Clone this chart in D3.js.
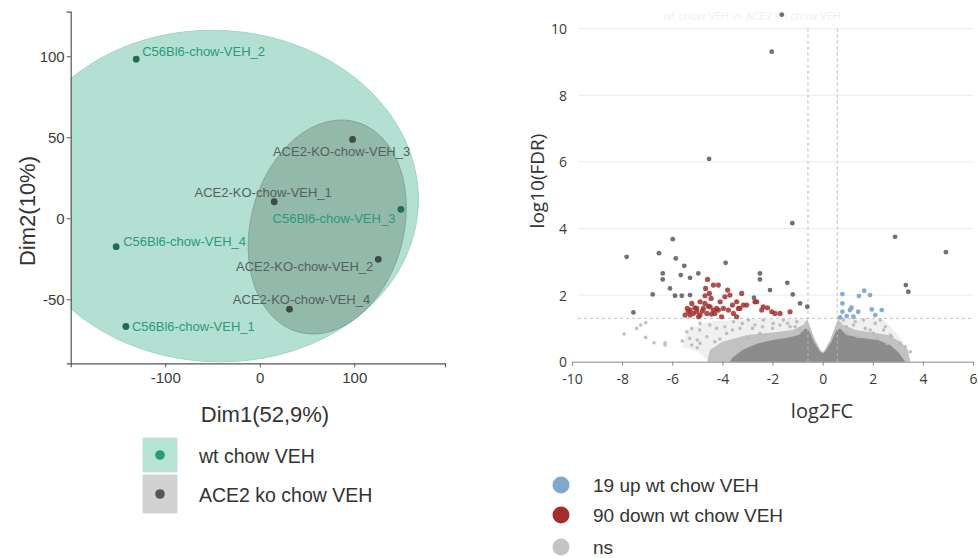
<!DOCTYPE html>
<html>
<head>
<meta charset="utf-8">
<title>PCA and volcano plot, wt chow VEH vs ACE2 ko chow VEH</title>
<script src="https://d3js.org/d3.v7.min.js"></script>
<style>
    body { margin: 0; background: #fff; }
    svg { display: block; font-family: "Liberation Sans", Arial, sans-serif; }
</style>
</head>
<body>
<div id="chart"></div>
<script>
// ---- PCA data ----
var groupNames = ["wt chow VEH", "ACE2 ko chow VEH"];
var sampleNames = ["C56Bl6-chow-VEH_1", "C56Bl6-chow-VEH_2", "C56Bl6-chow-VEH_3", "C56Bl6-chow-VEH_4",
                   "ACE2-KO-chow-VEH_1", "ACE2-KO-chow-VEH_2", "ACE2-KO-chow-VEH_3", "ACE2-KO-chow-VEH_4"];
var sampleGroup = [0, 0, 0, 0, 1, 1, 1, 1];
var dim1 = [-141.6, -130.7, 149.4, -151.9, 15.3, 125.4, 98.2, 31.5];
var dim2 = [-66.8, 98.2, 5.5, -17.5, 10.2, -25.3, 48.7, -56.1];
// group ellipses (centre, half extents, correlation)
var ellipseCx = [-46, 71.4];
var ellipseCy = [13.7, -5.4];
var ellipseRx = [213.8, 83.6];
var ellipseRy = [102.3, 66];
var ellipseRho = [-0.02, 0.18];
var pcaXTicks = [-100, 0, 100];
var pcaYTicks = [-50, 0, 50, 100];

// ---- volcano data ----
var volXTicks = [-10, -8, -6, -4, -2, 0, 2, 4, 6];
var volYTicks = [0, 2, 4, 6, 8, 10];
var lfcCut = [-0.585, 0.585];
var fdrCut = 1.3;
var downLfc = [-4.59, -4.36, -4.16, -4.67, -3.79, -3.70, -3.23, -4.69, -4.52, -4.89, -4.09, -5.22, -5.02, -4.76, -4.56, -4.36,
               -4.16, -5.36, -5.16, -4.89, -4.62, -3.76, -3.56, -3.36, -3.16, -2.63, -2.43, -2.03, -1.70, -1.30, -5.49, -3.96,
               -3.43, -5.29, -5.02, -4.43, -4.03, -3.43, -3.03, -2.70, -2.37, -5.29, -4.49, -4.23, -3.30, -1.90, -2.20,
               -5.10, -4.80, -4.95, -4.30, -4.70, -4.45, -3.90, -3.60, -5.40];
var downFdr = [2.47, 2.30, 2.30, 2.20, 2.15, 2.00, 2.05, 1.98, 2.05, 1.80, 1.80, 1.75, 1.60, 1.60, 1.67, 1.55,
               1.55, 1.50, 1.45, 1.40, 1.45, 1.55, 1.45, 1.60, 1.70, 1.80, 1.55, 1.50, 1.45, 1.50, 1.40, 1.60,
               1.80, 1.55, 1.50, 1.43, 1.35, 1.35, 1.70, 1.80, 1.65, 1.40, 1.65, 1.60, 1.60, 1.45, 1.62,
               1.62, 1.52, 1.35, 1.45, 1.75, 1.90, 1.95, 1.70, 1.60];
var upLfc = [0.79, 0.79, 1.66, 1.89, 1.45, 0.79, 1.09, 1.23, 0.96, 1.96, 2.36, 1.42, 0.70, 1.15, 2.10];
var upFdr = [2.03, 1.75, 2.13, 2.00, 1.97, 1.50, 1.55, 1.35, 1.37, 1.57, 1.55, 1.50, 1.33, 1.62, 1.40];
// isolated ns genes (dark dots)
var nsFarLfc = [-2.03, -4.53, -1.21, 2.89, 4.92, -7.82, -5.98, -6.53, -5.86, -5.52, -3.87, -6.38, -6.38, -5.66, -5.29, -4.96,
                -2.50, -2.50, -1.41, -6.09, -6.78, -5.89, -5.62, -5.29, -2.10, -1.19, -2.74, -0.90, -0.61, -7.55, 3.32, 3.42, -1.63];
var nsFarFdr = [9.31, 6.09, 4.16, 3.75, 3.29, 3.15, 3.68, 3.26, 3.10, 2.88, 2.97, 2.65, 2.47, 2.60, 2.52, 2.65,
                2.65, 2.47, 2.37, 2.20, 2.02, 1.98, 1.98, 2.00, 2.15, 2.02, 1.92, 1.75, 1.65, 1.48, 2.30, 2.10, 10.42];
// scattered ns genes below the FDR line (light dots)
var nsLfc = [-7.92, -7.42, -7.06, -7.26, -7.06, -6.73, -6.29, -6.29, -5.42, -5.22, -4.89, -4.62, -4.89, -5.22, -4.23, -3.83,
             -3.56, -3.30, -2.96, -2.70, -2.37, -1.97, -1.57, -1.30, -1.03, -0.90, -2.50, -3.00, -4.10, 0.83, 1.23, 1.63,
             1.90, 2.30, 2.43, 2.03, 2.20, 2.56, 3.10, 3.30, 1.00, 1.40, -5.6, -5.0, 2.7, 3.5,
             -5.3, -4.9, -4.5, -4.3, -3.9, -3.6, -3.2, -2.8, -2.4, -2.0, -1.7, -1.4, -1.1, 0.95, 1.3, 1.7, 2.1, 2.5, 2.75, -5.0];
var nsFdr = [0.83, 1.00, 1.17, 1.10, 0.73, 0.57, 0.50, 0.57, 0.90, 1.00, 1.15, 0.75, 0.55, 0.50, 1.00, 0.85,
             1.20, 1.00, 1.25, 1.10, 1.25, 1.15, 1.25, 1.05, 1.20, 0.95, 0.85, 0.70, 0.68, 1.25, 1.10, 1.25,
             0.95, 1.25, 0.95, 0.85, 0.70, 0.55, 0.55, 0.45, 0.85, 0.75, 0.62, 0.42, 0.80, 0.30,
             0.70, 0.95, 1.10, 0.60, 1.05, 0.95, 1.15, 1.00, 1.05, 1.00, 1.10, 1.15, 1.05, 1.05, 1.20, 1.00, 1.15, 1.05, 0.75, 0.65];
// outlines of the ns haze, the outer cloud and the dense core near the origin
var hazeLfc = [-5.6, -5.4, -4.6, -3.0, -1.2, -0.7, -0.55, -0.1, 0.1, 0.55, 0.75, 2.4, 2.8, 3.2, 3.4, 3.4, -4.5, -5.0];
var hazeFdr = [0.45, 0.95, 1.2, 1.28, 1.28, 1.3, 1.05, 0.35, 0.35, 1.05, 1.3, 1.3, 1.0, 0.6, 0.35, 0.0, 0.0, 0.3];
var midLfc = [-4.6, -4.5, -4.0, -3.0, -2.0, -1.2, -0.75, -0.62, -0.5, -0.3, -0.05, 0.05, 0.3, 0.5, 0.62, 0.8, 1.3, 2.0, 2.6, 3.1, 3.4, 3.5];
var midFdr = [0.0, 0.35, 0.6, 0.8, 0.88, 0.95, 1.12, 1.28, 1.05, 0.65, 0.3, 0.3, 0.65, 1.05, 1.28, 1.12, 0.95, 0.88, 0.8, 0.6, 0.35, 0.0];
var coreLfc = [-3.7, -3.6, -3.2, -2.6, -2.0, -1.4, -0.95, -0.7, -0.55, -0.35, -0.12, 0.0, 0.12, 0.35, 0.55, 0.7, 0.95, 1.5, 2.2, 2.7, 3.0, 3.2, 3.3];
var coreFdr = [0.0, 0.12, 0.35, 0.55, 0.65, 0.72, 0.8, 1.0, 0.95, 0.6, 0.32, 0.25, 0.32, 0.6, 0.95, 1.0, 0.8, 0.72, 0.65, 0.5, 0.3, 0.1, 0.0];
var volLegend = ["19 up wt chow VEH", "90 down wt chow VEH", "ns"];

var svg = d3.select("#chart").append("svg")
    .attr("width", 978)
    .attr("height", 558);

// ================= PCA panel =================
var xPca = d3.scaleLinear().domain([-200, 196]).range([70.7, 445]);
var yPca = d3.scaleLinear().domain([-89.5, 127.5]).range([363.3, 11.7]);

svg.append("clipPath").attr("id", "pcaClip")
    .append("rect")
    .attr("x", xPca.range()[0]).attr("y", yPca.range()[1])
    .attr("width", xPca.range()[1] - xPca.range()[0])
    .attr("height", yPca.range()[0] - yPca.range()[1]);

var ellipseFill = ["#b3e0d3", "#93b9ab"];
var ellipseStroke = ["#a2d3c4", "#7fa596"];
var pointColor = ["#1e6b56", "#3d4a46"];
var labelColor = ["#2a9a7a", "#52625d"];

var pcaLayer = svg.append("g").attr("clip-path", "url(#pcaClip)");
var ellLine = d3.line().curve(d3.curveLinearClosed);
groupNames.forEach(function(g, i) {
    var pts = d3.range(0, 360, 2).map(function(a) {
        var t = a * Math.PI / 180;
        var ex = ellipseCx[i] + ellipseRx[i] * Math.cos(t);
        var ey = ellipseCy[i] + ellipseRy[i] * (ellipseRho[i] * Math.cos(t) + Math.sqrt(1 - ellipseRho[i] * ellipseRho[i]) * Math.sin(t));
        return [xPca(ex), yPca(ey)];
    });
    pcaLayer.append("path")
        .attr("d", ellLine(pts))
        .attr("fill", ellipseFill[i])
        .attr("stroke", ellipseStroke[i])
        .attr("stroke-width", 1);
});

// label placement (pixel offsets from each point)
var labelOffset = {
    "C56Bl6-chow-VEH_1": [6, 0, "start"],
    "C56Bl6-chow-VEH_2": [6, -8, "start"],
    "C56Bl6-chow-VEH_3": [-67, 9, "middle"],
    "C56Bl6-chow-VEH_4": [7, -5, "start"],
    "ACE2-KO-chow-VEH_1": [-11, -9, "middle"],
    "ACE2-KO-chow-VEH_2": [-5, 7, "end"],
    "ACE2-KO-chow-VEH_3": [-11, 12, "middle"],
    "ACE2-KO-chow-VEH_4": [12, -10, "middle"]
};

pcaLayer.selectAll("text.lab")
    .data(sampleNames)
    .enter()
    .append("text")
    .attr("class", "lab")
    .attr("x", function(d, i) { return xPca(dim1[i]) + labelOffset[d][0]; })
    .attr("y", function(d, i) { return yPca(dim2[i]) + labelOffset[d][1]; })
    .attr("text-anchor", function(d) { return labelOffset[d][2]; })
    .attr("dominant-baseline", "central")
    .style("font-size", "13px")
    .attr("fill", function(d, i) { return labelColor[sampleGroup[i]]; })
    .text(function(d) { return d; });

pcaLayer.selectAll("circle.pt")
    .data(sampleNames)
    .enter()
    .append("circle")
    .attr("class", "pt")
    .attr("cx", function(d, i) { return xPca(dim1[i]); })
    .attr("cy", function(d, i) { return yPca(dim2[i]); })
    .attr("r", 3.4)
    .attr("fill", function(d, i) { return pointColor[sampleGroup[i]]; });

// axes
var pxAxis = svg.append("g")
    .attr("transform", "translate(0," + yPca.range()[0] + ")")
    .call(d3.axisBottom(xPca).tickValues(pcaXTicks).tickSize(4).tickPadding(5).tickFormat(d3.format("d")));
var pyAxis = svg.append("g")
    .attr("transform", "translate(" + xPca.range()[0] + ",0)")
    .call(d3.axisLeft(yPca).tickValues(pcaYTicks).tickSize(4).tickPadding(2).tickFormat(d3.format("d")));
[pxAxis, pyAxis].forEach(function(a) {
    a.select(".domain").attr("stroke", "#555").attr("stroke-width", 1.2);
    a.selectAll(".tick line").attr("stroke", "#555");
    a.selectAll(".tick text")
        .attr("fill", "#3a3a3a")
        .style("font-size", "15px")
        .style("font-family", "Liberation Sans, Arial, sans-serif")
        .text(function(d) { return d < 0 ? "-" + Math.abs(d) : d; });
});

svg.append("text")
    .attr("x", 265).attr("y", 414)
    .attr("text-anchor", "middle")
    .attr("dominant-baseline", "central")
    .style("font-size", "22px")
    .attr("fill", "#333")
    .text("Dim1(52,9%)");

svg.append("text")
    .attr("transform", "translate(27,211) rotate(-90)")
    .attr("text-anchor", "middle")
    .attr("dominant-baseline", "central")
    .style("font-size", "22px")
    .attr("fill", "#333")
    .text("Dim2(10%)");

// PCA legend
var keyFill = ["#b7e4d5", "#d2d2d2"];
var keyDot = ["#2a9a7a", "#565656"];
var keyY = [438, 475];
var keyH = [34, 38];
groupNames.forEach(function(g, i) {
    svg.append("rect")
        .attr("x", 143).attr("y", keyY[i])
        .attr("width", 34).attr("height", keyH[i])
        .attr("fill", keyFill[i])
        .attr("stroke", "#c4d8d0")
        .attr("stroke-width", 0.8);
    svg.append("circle")
        .attr("cx", 160).attr("cy", keyY[i] + keyH[i] / 2)
        .attr("r", 4.8)
        .attr("fill", keyDot[i]);
    svg.append("text")
        .attr("x", 199).attr("y", keyY[i] + keyH[i] / 2 + 1)
        .attr("dominant-baseline", "central")
        .style("font-size", "19.5px")
        .attr("fill", "#333")
        .text(g);
});

// ================= volcano panel =================
var xV = d3.scaleLinear().domain([-10, 6]).range([572, 973]);
var yV = d3.scaleLinear().domain([0, 10]).range([361.7, 28.7]);
var volFont = "Open Sans, Liberation Sans, sans-serif";

// faint title
svg.append("text")
    .attr("x", 752).attr("y", 15)
    .attr("text-anchor", "middle")
    .attr("dominant-baseline", "central")
    .style("font-size", "11px")
    .style("font-family", volFont)
    .attr("fill", "#f0f0f0")
    .text("wt chow VEH vs ACE2 ko chow VEH");

// grid
svg.selectAll("line.vgrid")
    .data(volYTicks.slice(1))
    .enter()
    .append("line")
    .attr("x1", 578).attr("x2", 973)
    .attr("y1", function(d) { return yV(d); })
    .attr("y2", function(d) { return yV(d); })
    .attr("stroke", "#ececec")
    .attr("stroke-width", 1);

// ns haze, outer cloud and dense core
var areaLine = d3.line()
    .x(function(d) { return xV(d[0]); })
    .y(function(d) { return yV(d[1]); })
    .curve(d3.curveLinearClosed);
function zip(a, b) { return a.map(function(v, i) { return [v, b[i]]; }); }
svg.append("path")
    .attr("d", areaLine(zip(hazeLfc, hazeFdr)))
    .attr("fill", "#f0f0f0");
svg.append("path")
    .attr("d", areaLine(zip(midLfc, midFdr)))
    .attr("fill", "#c2c2c2");
svg.append("path")
    .attr("d", areaLine(zip(coreLfc, coreFdr)))
    .attr("fill", "#8c8c8c");

// thresholds
svg.selectAll("line.vcut")
    .data(lfcCut)
    .enter()
    .append("line")
    .attr("x1", function(d) { return xV(d); })
    .attr("x2", function(d) { return xV(d); })
    .attr("y1", yV(0)).attr("y2", yV(10))
    .attr("stroke", "#b8b8b8")
    .attr("stroke-dasharray", "3,3");
svg.append("line")
    .attr("x1", 578).attr("x2", 973)
    .attr("y1", yV(fdrCut)).attr("y2", yV(fdrCut))
    .attr("stroke", "#c4c4c4")
    .attr("stroke-dasharray", "3,3");

function dots(lfc, fdr, r, fill, op) {
    svg.append("g").selectAll("circle")
        .data(lfc)
        .enter()
        .append("circle")
        .attr("cx", function(d) { return xV(d); })
        .attr("cy", function(d, i) { return yV(fdr[i]); })
        .attr("r", r)
        .attr("fill", fill)
        .attr("opacity", op);
}
dots(nsLfc, nsFdr, 1.8, "#b9b9b9", 0.9);
dots(upLfc, upFdr, 2.4, "#7fa8cc", 0.95);
dots(downLfc, downFdr, 2.6, "#a3302f", 0.85);
dots(nsFarLfc, nsFarFdr, 2.4, "#626262", 0.9);

// axes
var vxAxis = svg.append("g")
    .attr("transform", "translate(0," + yV(0) + ")")
    .call(d3.axisBottom(xV).tickValues(volXTicks).tickSize(4).tickPadding(8));
vxAxis.select(".domain").attr("stroke", "#8a8a8a");
vxAxis.selectAll(".tick line").attr("stroke", "#8a8a8a");
vxAxis.selectAll(".tick text")
    .attr("fill", "#3a3a3a")
    .style("font-size", "14px")
    .style("font-family", volFont)
    .text(function(d) { return d < 0 ? "-" + Math.abs(d) : d; });

svg.selectAll("text.vy")
    .data(volYTicks)
    .enter()
    .append("text")
    .attr("class", "vy")
    .attr("x", 567)
    .attr("y", function(d) { return yV(d); })
    .attr("text-anchor", "end")
    .attr("dominant-baseline", "central")
    .style("font-size", "14px")
    .style("font-family", volFont)
    .attr("fill", "#3a3a3a")
    .text(function(d) { return d; });

svg.append("text")
    .attr("x", 822).attr("y", 410)
    .attr("text-anchor", "middle")
    .attr("dominant-baseline", "central")
    .style("font-size", "20px")
    .style("font-family", volFont)
    .attr("fill", "#333")
    .text("log2FC");

svg.append("text")
    .attr("transform", "translate(537,181) rotate(-90)")
    .attr("text-anchor", "middle")
    .attr("dominant-baseline", "central")
    .style("font-size", "19px")
    .style("font-family", volFont)
    .attr("fill", "#333")
    .text("log10(FDR)");

// volcano legend
var volLegendColor = ["#7fa8cc", "#a52e2d", "#c4c4c4"];
var volLegendY = [485, 515, 547];
volLegend.forEach(function(t, i) {
    svg.append("circle")
        .attr("cx", 561).attr("cy", volLegendY[i])
        .attr("r", 8.5)
        .attr("fill", volLegendColor[i]);
    svg.append("text")
        .attr("x", 593).attr("y", volLegendY[i])
        .attr("dominant-baseline", "central")
        .style("font-size", "19px")
        .attr("fill", "#333")
        .text(t);
});
</script>
</body>
</html>
